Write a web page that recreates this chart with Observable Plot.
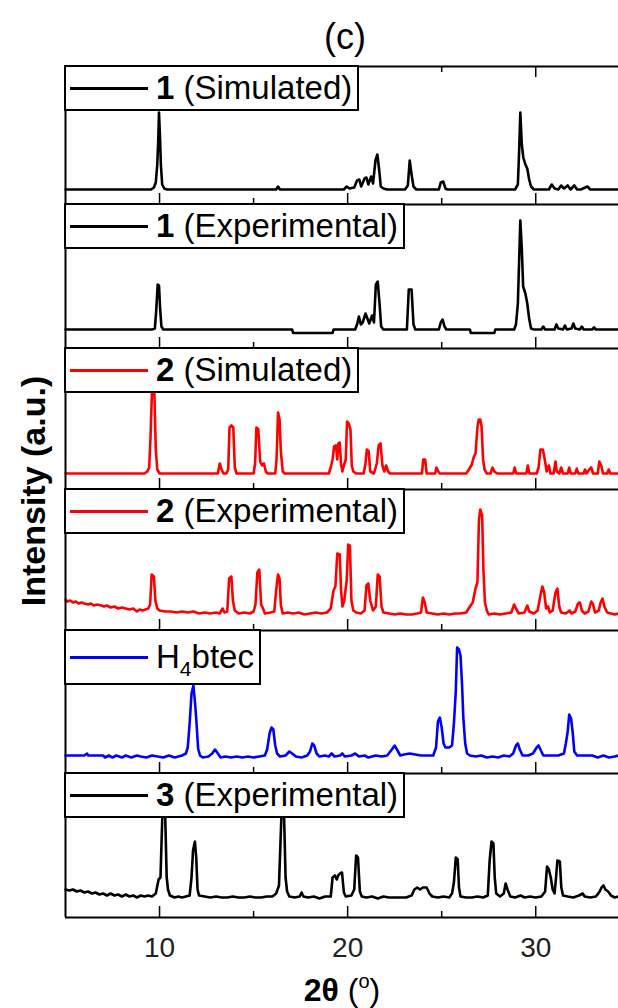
<!DOCTYPE html>
<html>
<head>
<meta charset="utf-8">
<script src="https://cdn.jsdelivr.net/npm/d3@7"></script>
<script src="https://cdn.jsdelivr.net/npm/@observablehq/plot@0.6"></script>
<style>
  html, body { margin: 0; padding: 0; background: #fff; }
  body { width: 618px; height: 1008px; overflow: hidden; position: relative;
         font-family: "Liberation Sans", Arial, sans-serif; color: #000; }
  #fig { position: absolute; left: 0; top: 0; width: 618px; height: 1008px; }
  .legend { position: absolute; left: 64px; height: 46px; border: 2px solid #000; background: #fff;
            box-sizing: border-box; display: flex; align-items: center; padding-right: 5px;
            font-size: 33px; white-space: nowrap; }
  .legend .swatch { width: 78px; height: 3px; margin: 0 8px 0 4px; flex: none; }
  .legend sub { font-size: 21px; vertical-align: -8px; line-height: 0; }
  .title { position: absolute; left: 345px; top: 37px; transform: translate(-50%, -50%); font-size: 36px; }
  .ylab { position: absolute; left: 33px; top: 491px; transform: translate(-50%, -50%) rotate(-90deg);
          font-size: 34px; font-weight: bold; white-space: nowrap; }
  .xlab { position: absolute; left: 342px; top: 990px; transform: translate(-50%, -50%);
          font-size: 32px; white-space: nowrap; }
  .xlab sup { font-size: 20px; vertical-align: 13px; line-height: 0; }
</style>
</head>
<body>
<div id="fig"></div>
<script>
// Powder XRD patterns, [2θ (deg), intensity (a.u.)]
const sim1 = [
  [5,15],[9.55,15],[9.7,17],[9.8,22],[9.88,40],[9.93,64],[9.97,92],[10.02,70],[10.07,40],[10.14,20],[10.25,16],[10.4,15],
  [16.2,15],[16.3,18],[16.4,15],
  [19.8,15],[19.95,18],[20.1,16],[20.35,17],[20.5,24],[20.62,25],[20.72,18],[20.9,26],[21.0,27],[21.1,20],[21.25,28],[21.35,21],
  [21.48,44],[21.58,50],[21.68,34],[21.76,18],[21.9,16],[22.1,15],
  [23.05,15],[23.2,19],[23.3,44],[23.4,30],[23.5,18],[23.65,15],
  [24.85,15],[24.95,22],[25.08,23],[25.2,16],[25.3,15],
  [28.9,15],[29.05,20],[29.12,55],[29.18,92],[29.26,60],[29.34,47],[29.45,40],[29.55,36],[29.65,25],[29.75,18],[29.9,15],
  [30.7,15],[30.85,20],[31.0,16],[31.2,15],[31.35,19],[31.5,16],[31.7,19],[31.85,15],[32.05,19],[32.2,15],[32.4,15],
  [32.75,18],[32.9,15],[34.4,15]
];
const exp1 = [
  [5,19],[9.6,19],[9.75,20],[9.82,37],[9.9,64],[9.97,63],[10.03,40],[10.1,22],[10.2,19],
  [17.05,19],[17.1,15.5],[19.2,15.5],[19.25,19],
  [20.4,19],[20.5,24],[20.6,32],[20.7,24],[20.8,26],[20.95,35],[21.05,30],[21.15,25],[21.3,33],[21.4,26],
  [21.5,64],[21.6,67],[21.7,44],[21.78,22],[21.9,19],
  [23.15,19],[23.25,59],[23.4,59],[23.5,24],[23.6,19],
  [24.85,19],[24.95,26],[25.05,29],[25.15,22],[25.25,19],
  [26.5,19],[26.55,15.5],[27.8,15.5],[27.85,19],
  [28.85,19],[28.95,24],[29.05,45],[29.12,90],[29.18,128],[29.26,100],[29.33,62],[29.45,55],[29.55,45],[29.65,30],[29.75,20],[29.9,19],
  [30.3,19],[30.4,22],[30.5,19],[31.0,19],[31.1,24],[31.2,20],[31.45,19],[31.55,23],[31.65,19],[31.9,20],[32.0,25],[32.1,20],
  [32.35,19],[32.45,22],[32.55,19],[33.0,19],[33.1,21],[33.2,19],[34.4,19]
];
const sim2 = [
  [5,16],[9.2,16],[9.35,18],[9.45,22],[9.52,52],[9.6,100],[9.72,100],[9.8,40],[9.88,20],[10.0,16],
  [13.1,16],[13.2,26],[13.3,20],[13.4,16],[13.55,16],[13.65,20],[13.72,62],[13.82,64],[13.92,62],[14.0,22],[14.1,16],
  [15.0,16],[15.08,26],[15.15,62],[15.25,60],[15.35,28],[15.45,24],[15.55,26],[15.65,18],[15.75,16],
  [16.15,16],[16.22,30],[16.3,77],[16.38,70],[16.45,38],[16.55,18],[16.65,16],
  [19.0,16],[19.1,22],[19.2,30],[19.28,43],[19.38,44],[19.45,30],[19.5,46],[19.58,47],[19.65,25],[19.72,18],[19.8,24],
  [19.9,30],[19.97,68],[20.06,66],[20.15,60],[20.22,24],[20.3,18],[20.45,16],
  [20.85,16],[20.95,26],[21.02,40],[21.12,38],[21.2,18],[21.4,16],[21.55,26],[21.65,44],[21.75,46],[21.85,24],[21.95,18],
  [22.05,24],[22.15,18],[22.25,16],
  [23.95,16],[24.02,30],[24.12,30],[24.2,16],[24.65,16],[24.72,22],[24.82,18],[24.9,16],
  [26.3,16],[26.45,20],[26.6,25],[26.7,32],[26.8,36],[26.9,62],[26.97,70],[27.05,70],[27.12,63],[27.2,30],[27.28,20],[27.4,16],
  [27.6,16],[27.7,22],[27.8,18],[27.95,16],
  [28.8,16],[28.88,22],[28.96,16],[29.5,16],[29.58,24],[29.66,16],
  [30.05,16],[30.15,22],[30.25,40],[30.38,40],[30.48,30],[30.58,18],[30.7,24],[30.78,16],[30.95,16],[31.05,28],[31.12,18],
  [31.25,16],[31.35,22],[31.45,16],[31.7,16],[31.78,22],[31.86,16],[32.1,16],[32.18,21],[32.26,16],[32.55,16],[32.62,20],
  [32.7,16],[32.85,20],[32.95,22],[33.05,16],[33.3,16],[33.38,28],[33.48,24],[33.58,16],[33.8,16],[33.88,20],[33.96,16],[34.4,16]
];
const exp2 = [
  [5,31],[5.1,29],[5.25,30],[5.4,28],[5.55,29],[5.7,27],[5.85,28],[6.0,27],[6.2,26],[6.35,27],[6.5,25],[6.7,26],[6.9,25],
  [7.05,24],[7.2,25],[7.4,23],[7.6,24],[7.8,22],[8.0,23],[8.2,22],[8.4,21],[8.6,22],[8.8,19],[8.95,21],[9.1,20],[9.25,21],
  [9.4,22],[9.5,26],[9.58,56],[9.7,54],[9.78,30],[9.88,22],[10.0,20],[10.3,19],[10.6,19],[10.9,18],[11.2,19],[11.5,18],
  [11.8,19],[12.1,17],[12.4,18],[12.7,17],[13.0,18],[13.2,17],[13.35,22],[13.45,18],[13.6,19],[13.7,52],[13.82,54],[13.9,30],
  [14.0,20],[14.2,17],[14.5,18],[14.8,17],[15.0,19],[15.1,26],[15.2,58],[15.3,61],[15.4,26],[15.5,22],[15.6,17],[15.9,18],
  [16.1,19],[16.2,40],[16.3,56],[16.38,52],[16.45,25],[16.55,17],[16.8,18],[17.1,17],[17.4,18],[17.7,16],[18.0,17],[18.3,18],
  [18.6,17],[18.9,18],[19.1,22],[19.25,40],[19.35,44],[19.45,77],[19.58,76],[19.65,40],[19.72,24],[19.82,30],[19.95,50],
  [20.03,86],[20.12,85],[20.2,30],[20.3,20],[20.45,18],[20.7,17],[20.9,20],[21.0,45],[21.1,47],[21.2,30],[21.35,20],[21.5,24],
  [21.6,56],[21.7,54],[21.8,24],[21.9,18],[22.2,17],[22.5,16],[22.8,17],[23.1,16],[23.4,16],[23.7,17],[23.9,18],[24.0,33],
  [24.1,28],[24.2,18],[24.5,17],[24.8,16],[25.1,17],[25.4,16],[25.7,17],[26.0,17],[26.3,18],[26.5,24],[26.65,28],[26.8,42],
  [26.9,48],[26.98,110],[27.05,121],[27.15,115],[27.22,60],[27.3,28],[27.4,20],[27.5,16],[27.8,17],[28.1,16],[28.4,17],
  [28.7,18],[28.85,26],[28.95,22],[29.1,17],[29.4,18],[29.55,25],[29.65,19],[29.9,17],[30.1,20],[30.25,35],[30.35,44],
  [30.45,38],[30.55,22],[30.65,24],[30.75,18],[30.9,20],[31.05,38],[31.15,42],[31.25,24],[31.35,18],[31.6,17],[31.8,20],
  [31.9,17],[32.1,19],[32.25,27],[32.35,28],[32.45,20],[32.6,17],[32.8,19],[32.95,29],[33.05,26],[33.15,18],[33.35,20],
  [33.45,28],[33.55,32],[33.65,24],[33.8,18],[34.0,17],[34.2,16],[34.4,17]
];
const h4btec = [
  [5,18],[6.0,18],[6.15,20],[6.2,18],[7.0,18],[7.1,16],[7.3,18],[7.5,16],[7.7,18],[8.0,16],[8.2,18],[8.5,16],[8.8,18],
  [9.0,17],[9.3,16],[9.6,18],[9.9,17],[10.2,16],[10.5,18],[10.8,16],[11.0,17],[11.2,18],[11.4,20],[11.5,26],[11.6,50],
  [11.7,80],[11.8,88],[11.88,72],[11.95,55],[12.05,25],[12.15,18],[12.3,16],[12.6,17],[12.8,20],[12.95,24],[13.1,20],
  [13.25,16],[13.5,17],[13.8,16],[14.1,17],[14.4,16],[14.7,17],[15.0,16],[15.3,17],[15.6,18],[15.72,24],[15.85,40],
  [15.95,46],[16.05,44],[16.15,28],[16.25,20],[16.4,17],[16.7,18],[16.9,22],[17.05,20],[17.25,17],[17.55,16],[17.85,18],
  [18.0,22],[18.12,30],[18.22,28],[18.35,20],[18.5,17],[18.8,18],[19.0,17],[19.15,20],[19.3,17],[19.6,18],[19.72,20],
  [19.85,17],[20.2,18],[20.4,20],[20.6,17],[20.9,18],[21.1,16],[21.5,18],[21.8,17],[22.1,18],[22.35,24],[22.5,28],
  [22.62,24],[22.8,18],[23.0,19],[23.3,20],[23.6,19],[23.9,18],[24.3,18],[24.55,18],[24.7,26],[24.8,52],[24.9,56],[25.0,46],
  [25.1,30],[25.2,26],[25.4,26],[25.55,28],[25.65,50],[25.75,82],[25.82,126],[25.92,124],[26.0,118],[26.08,90],[26.15,56],
  [26.25,30],[26.35,20],[26.5,18],[26.8,17],[27.1,18],[27.4,16],[27.7,17],[28.0,16],[28.3,18],[28.6,17],[28.8,20],
  [28.95,28],[29.05,30],[29.15,24],[29.3,18],[29.6,18],[29.85,20],[30.05,26],[30.15,28],[30.25,24],[30.4,18],[30.8,18],
  [31.2,18],[31.5,20],[31.6,30],[31.7,42],[31.78,59],[31.88,55],[31.97,40],[32.05,22],[32.2,18],[32.6,18],[33.0,18],
  [33.3,16],[33.6,18],[33.9,16],[34.2,17],[34.4,18]
];
const exp3 = [
  [5,28],[5.2,27],[5.4,28],[5.6,26],[5.8,27],[6.0,25],[6.2,26],[6.4,24],[6.6,25],[6.8,23],[7.0,24],[7.2,22],[7.4,24],
  [7.6,22],[7.8,23],[8.0,21],[8.2,23],[8.4,21],[8.6,22],[8.8,20],[9.0,22],[9.2,21],[9.4,22],[9.6,21],[9.8,24],[9.95,38],
  [10.05,40],[10.15,102],[10.3,102],[10.38,40],[10.45,28],[10.55,22],[10.8,20],[11.0,21],[11.2,20],[11.4,21],[11.6,22],
  [11.7,40],[11.78,67],[11.88,76],[11.95,60],[12.02,28],[12.1,22],[12.4,21],[12.7,20],[13.0,21],[13.3,20],[13.6,20],
  [13.9,21],[14.2,20],[14.5,20],[14.8,21],[15.1,20],[15.4,20],[15.7,21],[16.0,21],[16.2,24],[16.35,32],[16.48,102],
  [16.62,102],[16.7,40],[16.78,26],[16.9,21],[17.2,20],[17.45,21],[17.55,25],[17.65,21],[17.9,20],[18.2,21],[18.5,19],
  [18.8,21],[19.1,21],[19.2,40],[19.32,42],[19.42,38],[19.5,42],[19.6,44],[19.7,45],[19.8,25],[19.9,21],[20.2,22],[20.35,28],
  [20.45,62],[20.55,60],[20.65,26],[20.75,21],[21.0,20],[21.3,21],[21.6,19],[21.9,21],[22.2,20],[22.5,20],[22.8,20],
  [23.1,20],[23.4,22],[23.55,28],[23.7,30],[23.85,28],[24.0,30],[24.2,30],[24.35,24],[24.5,21],[24.8,20],[25.1,21],
  [25.4,20],[25.55,24],[25.65,35],[25.75,60],[25.85,58],[25.92,30],[26.0,21],[26.3,20],[26.6,20],[26.9,21],[27.2,20],
  [27.45,22],[27.55,57],[27.65,76],[27.75,74],[27.82,40],[27.9,24],[28.1,21],[28.3,24],[28.4,34],[28.5,28],[28.65,21],
  [28.9,20],[29.2,22],[29.4,20],[29.7,21],[30.0,20],[30.3,21],[30.5,26],[30.6,51],[30.7,48],[30.8,40],[30.9,28],[31.0,24],
  [31.08,40],[31.15,57],[31.28,56],[31.36,30],[31.45,22],[31.7,21],[32.0,20],[32.3,22],[32.5,24],[32.6,21],[32.9,20],
  [33.2,21],[33.4,26],[33.5,30],[33.6,32],[33.7,28],[33.85,26],[34.0,22],[34.2,20],[34.4,21]
];

const majorTicks = [10, 20, 30];
const minorTicks = [15, 25];

// Legend entries: bold sample id + description
const panels = [
  {data: sim1,   color: "#000000", id: "1", desc: " (Simulated)"},
  {data: exp1,   color: "#000000", id: "1", desc: " (Experimental)"},
  {data: sim2,   color: "#ff0000", id: "2", desc: " (Simulated)"},
  {data: exp2,   color: "#ff0000", id: "2", desc: " (Experimental)"},
  {data: h4btec, color: "#0000ff", html: "H<sub>4</sub>btec"},
  {data: exp3,   color: "#000000", id: "3", desc: " (Experimental)"}
];

const fig = document.getElementById("fig");
// horizontal panel boundaries in page pixels
const edges = [66, 204, 348, 489, 630, 773, 917];
const xDomain = [5, 34.4];

panels.forEach((p, i) => {
  const top = edges[i];
  const h = edges[i + 1] - top;
  const last = i === panels.length - 1;
  const mb = last ? 91 : 0;
  const marks = [
    Plot.line(p.data, {x: d => d[0], y: d => d[1], stroke: p.color, strokeWidth: 2.6}),
    Plot.ruleY([0], {stroke: "#000", strokeWidth: 2}),
    Plot.ruleX([xDomain[0]], {stroke: "#000", strokeWidth: 2}),
    Plot.ruleX(majorTicks, {x: d => d, y1: 0, y2: 11, stroke: "#000", strokeWidth: 1.5}),
    Plot.ruleX(minorTicks, {x: d => d, y1: 0, y2: 6, stroke: "#000", strokeWidth: 1.5})
  ];
  if (i === 0) {
    marks.push(
      Plot.ruleY([h], {stroke: "#000", strokeWidth: 2}),
      Plot.ruleX(majorTicks, {x: d => d, y1: h - 11, y2: h, stroke: "#000", strokeWidth: 1.5}),
      Plot.ruleX(minorTicks, {x: d => d, y1: h - 6, y2: h, stroke: "#000", strokeWidth: 1.5})
    );
  }
  const svg = Plot.plot({
    width: 618,
    height: h + mb,
    marginLeft: 65,
    marginRight: 0,
    marginTop: 0,
    marginBottom: mb,
    x: {domain: xDomain, axis: last ? "bottom" : null, ticks: majorTicks, tickSize: 0, tickPadding: 20,
        tickFormat: d => String(d), label: null},
    y: {domain: [0, h], axis: null},
    style: {overflow: "visible", background: "transparent", fontSize: "28px",
            fontFamily: "'Liberation Sans', Arial, sans-serif", color: "#222"},
    marks
  });
  svg.style.position = "absolute";
  svg.style.left = "0px";
  svg.style.top = top + "px";
  fig.appendChild(svg);

  const lg = document.createElement("div");
  lg.className = "legend";
  lg.style.top = (top - 1) + "px";
  if (p.html) lg.style.height = "56px";
  const sw = document.createElement("span");
  sw.className = "swatch";
  sw.style.background = p.color;
  lg.appendChild(sw);
  const tx = document.createElement("span");
  if (p.html) tx.innerHTML = p.html;
  else tx.innerHTML = "<b>" + p.id + "</b>" + p.desc;
  lg.appendChild(tx);
  fig.appendChild(lg);
});

const title = document.createElement("div");
title.className = "title";
title.textContent = "(c)";
fig.appendChild(title);

const ylab = document.createElement("div");
ylab.className = "ylab";
ylab.textContent = "Intensity (a.u.)";
fig.appendChild(ylab);

const xlab = document.createElement("div");
xlab.className = "xlab";
xlab.innerHTML = "<b>2θ</b> (<sup>o</sup>)";
fig.appendChild(xlab);
</script>
</body>
</html>
